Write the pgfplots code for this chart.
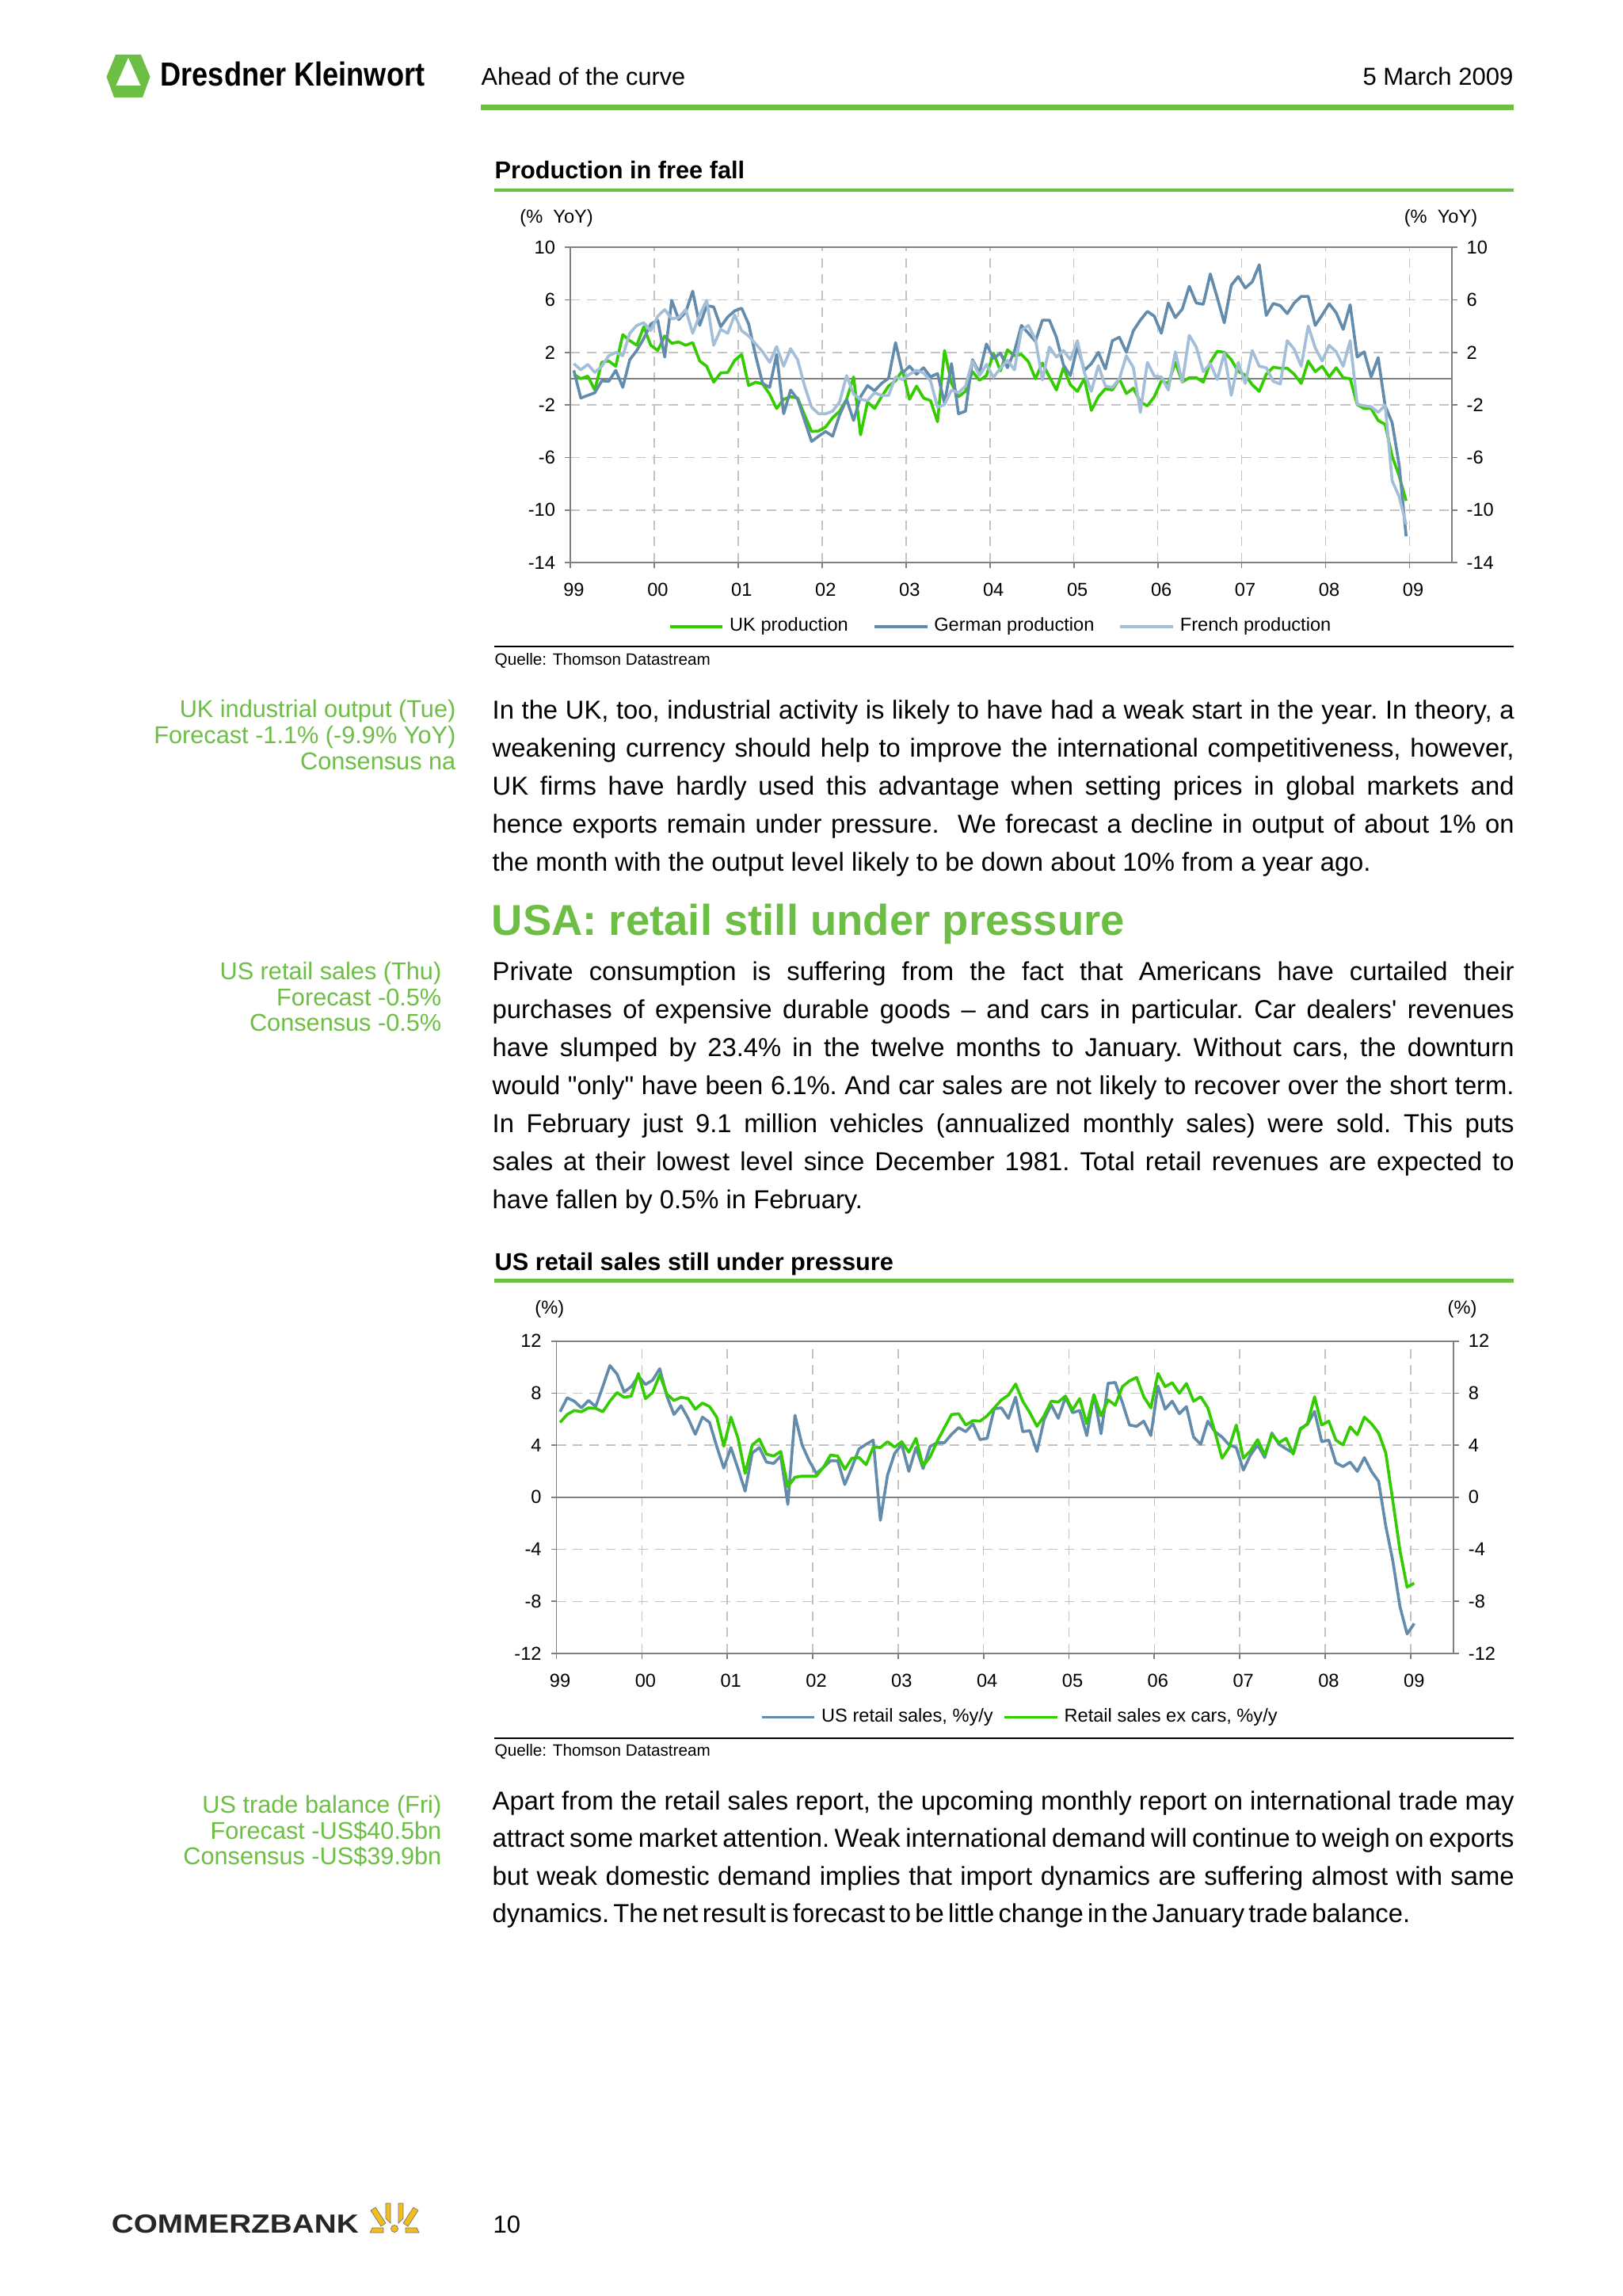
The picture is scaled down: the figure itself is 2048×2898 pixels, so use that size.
\documentclass[border=0pt]{standalone}
\usepackage{fontspec}
\setmainfont{Liberation Sans}[Ligatures=TeXOff]
\usepackage{pgfplots}
\pgfplotsset{compat=1.18}
\usepackage{pgfplotstable}

\definecolor{dkgreen}{RGB}{109,190,69}
\definecolor{ukgreen}{RGB}{51,204,0}
\definecolor{deblue}{RGB}{98,139,172}
\definecolor{frblue}{RGB}{163,190,216}
\definecolor{gridgray}{RGB}{195,195,195}
\definecolor{axgray}{RGB}{128,128,128}
\definecolor{czyellow}{RGB}{243,189,30}

\newcommand\body{\fontsize{9.5}{12}\selectfont\frenchspacing}
\newcommand\note{\fontsize{8.9}{10}\selectfont\color{dkgreen}}
\newcommand\chf{\fontsize{6.85}{8}\selectfont}
\newcommand\jl[2]{\node[anchor=base west,inner sep=0pt,font=\body] at (621,#1) {\hbox to 374.1pt{#2}};}
\newcommand\lastline[2]{\node[anchor=base west,inner sep=0pt,font=\body] at (621,#1) {#2};}
\newcommand\sn[3]{\node[anchor=base east,inner sep=0pt,font=\note] at (#1,#2) {#3};}

\pgfplotstableread{
k uk de fr
0 0.34 0.64 1.15
1 0.0 -1.47 0.68
2 0.2 -1.27 1.09
3 -0.86 -1.07 0.48
4 1.25 -0.16 0.95
5 1.35 -0.2 1.75
6 0.95 0.64 2.01
7 3.36 -0.66 1.75
8 2.9 1.45 3.46
9 2.55 2.15 4.06
10 3.96 3.06 4.26
11 2.55 4.16 3.66
12 2.15 4.46 4.76
13 3.26 1.65 5.27
14 2.7 5.97 4.56
15 2.8 4.5 4.66
16 2.55 5.07 5.27
17 2.75 6.67 3.46
18 1.35 4.06 4.86
19 0.95 5.57 5.97
20 -0.26 5.47 2.55
21 0.44 3.96 3.76
22 0.48 4.7 3.46
23 1.4 5.17 4.86
24 1.85 5.37 3.66
25 -0.52 4.16 3.26
26 -0.26 1.75 2.65
27 -0.4 -0.36 2.05
28 -1.17 -0.66 1.25
29 -2.27 1.85 2.45
30 -1.57 -2.67 0.95
31 -1.37 -0.86 2.29
32 -1.47 -1.57 1.45
33 -2.77 -3.18 -0.56
34 -4.02 -4.78 -2.17
35 -3.98 -4.38 -2.67
36 -3.68 -4.02 -2.67
37 -2.97 -4.38 -2.47
38 -2.47 -2.77 -1.77
39 -1.57 -1.57 0.24
40 0.14 -3.18 -1.17
41 -4.28 -1.37 -1.57
42 -1.77 -0.52 -1.67
43 -2.27 -0.92 -1.07
44 -1.37 -0.36 -1.27
45 -0.56 0.04 -1.27
46 -0.16 2.75 0.14
47 0.64 0.44 -0.06
48 -1.57 0.95 0.34
49 -0.56 0.34 0.64
50 -1.47 0.84 0.44
51 -1.67 0.14 -0.16
52 -3.28 0.4 -2.17
53 2.15 -1.87 -1.97
54 -0.36 1.15 -0.86
55 -1.37 -2.67 -1.07
56 -0.96 -2.47 -0.56
57 0.54 1.45 1.35
58 -0.12 0.44 0.24
59 0.24 2.65 1.09
60 1.95 1.55 0.1
61 0.6 1.95 0.8
62 2.2 0.84 1.4
63 1.75 2.1 0.68
64 1.85 4.06 3.7
65 1.3 3.46 4.06
66 0.0 2.85 3.0
67 1.2 4.46 -0.1
68 0.14 4.46 2.41
69 -0.86 3.16 1.65
70 0.84 1.05 2.15
71 -0.46 0.24 1.45
72 -0.96 2.45 2.9
73 0.0 0.64 0.44
74 -2.41 1.15 -0.96
75 -1.37 2.01 1.0
76 -0.76 0.74 -0.56
77 -0.86 2.9 -0.66
78 0.0 3.16 0.0
79 -1.13 2.01 1.75
80 -0.72 3.66 0.84
81 -1.77 4.46 -2.57
82 -2.07 5.13 1.25
83 -1.37 4.76 0.2
84 -0.16 3.46 0.14
85 -0.36 5.77 -0.86
86 1.25 4.66 2.05
87 -0.26 5.31 -0.26
88 0.08 7.04 3.3
89 0.08 5.77 2.41
90 -0.26 5.67 0.54
91 1.25 7.98 1.15
92 2.09 6.17 -0.06
93 2.01 4.26 1.95
94 1.45 7.12 -1.27
95 0.54 7.78 1.25
96 0.28 6.91 -0.36
97 -0.46 7.38 2.15
98 -0.96 8.68 0.95
99 0.34 4.82 0.84
100 0.88 5.73 -0.2
101 0.8 5.57 -0.4
102 0.8 4.96 2.9
103 0.34 5.77 2.25
104 -0.36 6.27 0.95
105 1.35 6.27 4.02
106 0.54 4.06 2.35
107 0.95 4.86 1.35
108 0.14 5.71 2.55
109 0.84 5.03 2.05
110 0.08 3.76 0.95
111 0.0 5.63 2.9
112 -1.97 1.65 -1.93
113 -2.27 2.05 -2.07
114 -2.27 0.14 -2.13
115 -3.18 1.61 -2.57
116 -3.48 -2.07 -2.01
117 -5.9 -3.35 -7.77
118 -7.4 -6.56 -8.97
119 -9.3 -12.0 -11.1
}\topdata

\pgfplotstableread{
k us ex
0 6.57 5.75
1 7.64 6.36
2 7.38 6.67
3 6.87 6.57
4 7.44 6.87
5 6.97 6.83
6 8.5 6.57
7 10.12 7.38
8 9.47 8.05
9 8.09 7.68
10 8.5 7.78
11 9.31 9.51
12 8.66 7.58
13 9.0 8.05
14 9.88 9.41
15 7.78 7.93
16 6.36 7.44
17 7.03 7.68
18 6.06 7.58
19 4.84 6.77
20 6.16 7.24
21 5.75 6.97
22 3.92 6.16
23 2.24 3.92
24 3.82 6.16
25 2.2 4.53
26 0.47 1.83
27 3.41 4.02
28 3.82 4.47
29 2.7 3.31
30 2.6 3.17
31 3.17 3.52
32 -0.55 0.81
33 6.3 1.54
34 4.02 1.63
35 2.8 1.63
36 1.83 1.63
37 2.3 2.3
38 2.8 3.25
39 2.8 3.17
40 0.98 2.15
41 2.3 3.0
42 3.72 3.05
43 4.07 2.5
44 4.39 3.86
45 -1.77 3.82
46 1.69 4.27
47 3.37 3.86
48 4.07 4.27
49 1.99 3.46
50 3.82 4.53
51 2.2 2.4
52 3.92 3.11
53 4.19 4.33
54 4.19 5.35
55 4.84 6.36
56 5.35 6.42
57 5.04 5.55
58 5.65 5.89
59 4.43 5.85
60 4.53 6.26
61 6.8 6.87
62 6.87 7.48
63 6.06 7.85
64 7.7 8.7
65 5.04 7.38
66 5.12 6.5
67 3.52 5.45
68 5.96 6.26
69 7.11 7.38
70 6.06 7.32
71 7.68 7.78
72 6.5 6.71
73 6.67 7.58
74 4.74 5.65
75 7.89 7.89
76 4.88 6.26
77 8.76 7.48
78 8.82 7.07
79 7.28 8.5
80 5.55 8.94
81 5.45 9.21
82 5.85 7.72
83 4.74 6.87
84 8.54 9.51
85 6.77 8.5
86 7.38 8.8
87 6.42 7.99
88 6.97 8.74
89 4.63 7.38
90 4.07 7.72
91 5.85 6.87
92 5.04 5.04
93 4.63 3.0
94 4.02 3.82
95 3.82 5.55
96 2.09 3.0
97 3.25 3.58
98 4.02 4.43
99 3.05 3.25
100 4.94 4.84
101 4.07 4.19
102 3.72 4.53
103 3.41 3.31
104 5.28 5.2
105 5.61 5.65
106 6.6 7.72
107 4.27 5.55
108 4.39 5.85
109 2.64 4.39
110 2.36 4.02
111 2.7 5.41
112 1.99 4.8
113 3.05 6.16
114 1.99 5.65
115 1.22 4.94
116 -2.2 3.41
117 -4.9 -0.3
118 -8.4 -4.1
119 -10.5 -6.9
120 -9.7 -6.6
}\botdata

\pgfplotsset{
  common/.style={
    scale only axis, xmin=1999, xmax=2009.5,
    tick align=outside, major tick length=2pt,
    axis line style={axgray, line width=0.5pt},
    tick style={axgray, line width=0.5pt},
    ticklabel style={font=\chf, text=black},
  },
  mainax/.style={
    common,
    xtick={1999,...,2009}, xticklabels={99,00,01,02,03,04,05,06,07,08,09},
    xtick pos=left, ytick pos=left,
    grid=major, major grid style={gridgray, dash pattern=on 3.5pt off 2.5pt, line width=0.45pt},
    extra y ticks={0}, extra y tick labels={},
    extra y tick style={major tick length=0pt, grid=major, major grid style={solid, axgray, line width=0.6pt}},
    xticklabel style={xshift=1.3pt, yshift=-2pt},
    legend style={draw=none, fill=none, inner sep=0pt, font=\chf, anchor=west},
    legend image code/.code={\draw[##1, line width=1.05pt] (0pt,0pt) -- (19.4pt,0pt);},
    every axis plot/.append style={line width=1.05pt, line join=round},
  },
  rightax/.style={
    common, axis x line=none, axis y line*=right,
  },
}

\begin{document}
\begin{tikzpicture}
\begin{scope}[x=0.29pt,y=-0.29pt]
\path[use as bounding box, fill=white] (0,0) rectangle (2048,2898);
% header
\fill[dkgreen] (146,69) -- (178,69) -- (189.5,97) -- (180,123) -- (144,123) -- (134.5,97) -- cycle;
\fill[white] (162,73) -- (177.5,108) -- (146.5,108) -- cycle;
\node[anchor=base west, inner sep=0pt, font=\fontsize{12.2}{14}\selectfont\bfseries, xscale=0.86, transform shape] at (202,109) {Dresdner Kleinwort};
\node[anchor=base west, inner sep=0pt, font=\fontsize{8.9}{10}\selectfont] at (607,108) {Ahead of the curve};
\node[anchor=base east, inner sep=0pt, font=\fontsize{9}{10}\selectfont] at (1911,108) {5 March 2009};
\fill[dkgreen] (607,132) rectangle (1911,139);
% chart 1 frame
\node[anchor=base west, inner sep=0pt, font=\fontsize{8.9}{10}\selectfont\bfseries] at (624,226) {Production in free fall};
\fill[dkgreen] (624,237.7) rectangle (1911,242.3);
\node[font=\chf, inner sep=0pt] at (702.6,275) {(\%\ \ YoY)};
\node[font=\chf, inner sep=0pt] at (1819,275) {(\%\ \ YoY)};
\fill[black] (624,814.7) rectangle (1911,817.3);
\node[anchor=base west, inner sep=0pt, font=\fontsize{6}{7}\selectfont] at (624,839) {Quelle: Thomson Datastream};
% side notes 1
\sn{576}{905}{UK industrial output (Tue)}
\sn{576}{938}{Forecast -1.1\% (-9.9\% YoY)}
\sn{576}{971}{Consensus na}
% paragraph 1
\jl{907}{In the UK, too, industrial activity is likely to have had a weak start in the year. In theory, a}
\jl{955}{weakening currency should help to improve the international competitiveness, however,}
\jl{1003}{UK firms have hardly used this advantage when setting prices in global markets and}
\jl{1051}{hence exports remain under pressure.~ We forecast a decline in output of about 1\% on}
\lastline{1099}{the month with the output level likely to be down about 10\% from a year ago.}
% heading
\node[anchor=base west, inner sep=0pt, font=\fontsize{15.8}{18}\selectfont\bfseries, text=dkgreen] at (620,1180) {USA: retail still under pressure};
% side notes 2
\sn{558}{1236}{US retail sales (Thu)}
\sn{558}{1269}{Forecast -0.5\%}
\sn{558}{1301}{Consensus -0.5\%}
% paragraph 2
\jl{1237}{Private consumption is suffering from the fact that Americans have curtailed their}
\jl{1285}{purchases of expensive durable goods – and cars in particular. Car dealers' revenues}
\jl{1333}{have slumped by 23.4\% in the twelve months to January. Without cars, the downturn}
\jl{1381}{would "only" have been 6.1\%. And car sales are not likely to recover over the short term.}
\jl{1429}{In February just 9.1 million vehicles (annualized monthly sales) were sold. This puts}
\jl{1477}{sales at their lowest level since December 1981. Total retail revenues are expected to}
\lastline{1525}{have fallen by 0.5\% in February.}
% chart 2 frame
\node[anchor=base west, inner sep=0pt, font=\fontsize{8.9}{10}\selectfont\bfseries] at (624,1603) {US retail sales still under pressure};
\fill[dkgreen] (624,1614.3) rectangle (1911,1619.3);
\node[font=\chf, inner sep=0pt] at (693.8,1652) {(\%)};
\node[font=\chf, inner sep=0pt] at (1846,1652) {(\%)};
\fill[black] (624,2192.7) rectangle (1911,2195.3);
\node[anchor=base west, inner sep=0pt, font=\fontsize{6}{7}\selectfont] at (624,2216) {Quelle: Thomson Datastream};
% side notes 3
\sn{558}{2288}{US trade balance (Fri)}
\sn{558}{2321}{Forecast -US\$40.5bn}
\sn{558}{2353}{Consensus -US\$39.9bn}
% paragraph 3
\jl{2284}{Apart from the retail sales report, the upcoming monthly report on international trade may}
\jl{2331.5}{attract some market attention. Weak international demand will continue to weigh on exports}
\jl{2379}{but weak domestic demand implies that import dynamics are suffering almost with same}
\lastline{2426.5}{\hbox to 336pt{\spaceskip=1.2pt plus 3pt minus 0.5pt\relax dynamics. The net result is forecast to be little change in the January trade balance.}}
% footer
\node[anchor=base west, inner sep=0pt, font=\fontsize{9.6}{10}\selectfont\bfseries, text=black!85, xscale=1.17, transform shape] at (140,2818) {COMMERZBANK};
\begin{scope}[fill=czyellow, draw=black!55, line width=0.2pt]
\filldraw (468,2790) -- (474,2786) -- (487,2806) -- (481,2810) -- cycle;
\filldraw (470,2812) -- (484,2812) -- (484,2818) -- (467,2818) -- cycle;
\filldraw (528,2790) -- (522,2786) -- (509,2806) -- (515,2810) -- cycle;
\filldraw (526,2812) -- (512,2812) -- (512,2818) -- (529,2818) -- cycle;
\filldraw (487,2781) -- (493,2781) -- (493,2806) -- (487,2800) -- cycle;
\filldraw (509,2781) -- (503,2781) -- (503,2806) -- (509,2800) -- cycle;
\filldraw (498,2813) circle (4.5);
\end{scope}
\node[anchor=base west, inner sep=0pt, font=\fontsize{9}{10}\selectfont] at (622,2818) {10};
\end{scope}

% ---------- chart 1 ----------
\begin{axis}[mainax,
  at={(720*0.29pt,-710*0.29pt)}, anchor=south west,
  width=322.65pt, height=115.33pt,
  ymin=-14, ymax=10,
  ytick={-14,-10,-6,-2,2,6,10}, yticklabels={-14,-10,-6,-2,2,6,10},
  legend columns=3,
  legend style={at={(0.1106,-0.203)}, /tikz/every even column/.append style={column sep=7pt}},
]
\addplot[ukgreen] table[x expr=1999+(\thisrow{k}+0.5)/12, y=uk] {\topdata};
\addlegendentry{UK production}
\addplot[deblue] table[x expr=1999+(\thisrow{k}+0.5)/12, y=de] {\topdata};
\addlegendentry{German production}
\addplot[frblue] table[x expr=1999+(\thisrow{k}+0.5)/12, y=fr] {\topdata};
\addlegendentry{French production}
\end{axis}
\begin{axis}[rightax,
  at={(720*0.29pt,-710*0.29pt)}, anchor=south west,
  width=322.65pt, height=115.33pt,
  ymin=-14, ymax=10,
  ytick={-14,-10,-6,-2,2,6,10}, yticklabels={-14,-10,-6,-2,2,6,10},
]
\end{axis}

% ---------- chart 2 ----------
\begin{axis}[mainax,
  at={(702.6*0.29pt,-2087*0.29pt)}, anchor=south west,
  width=328.34pt, height=114.35pt,
  ymin=-12, ymax=12,
  ytick={-12,-8,-4,0,4,8,12}, yticklabels={-12,-8,-4,0,4,8,12},
  legend columns=2,
  legend style={at={(0.2265,-0.204)}, /tikz/every even column/.append style={column sep=1.6pt}},
]
\addplot[deblue] table[x expr=1999+(\thisrow{k}+0.5)/12, y=us] {\botdata};
\addlegendentry{US retail sales, \%y/y}
\addplot[ukgreen] table[x expr=1999+(\thisrow{k}+0.5)/12, y=ex] {\botdata};
\addlegendentry{Retail sales ex cars, \%y/y}
\end{axis}
\begin{axis}[rightax,
  at={(702.6*0.29pt,-2087*0.29pt)}, anchor=south west,
  width=328.34pt, height=114.35pt,
  ymin=-12, ymax=12,
  ytick={-12,-8,-4,0,4,8,12}, yticklabels={-12,-8,-4,0,4,8,12},
]
\end{axis}
\end{tikzpicture}
\end{document}
